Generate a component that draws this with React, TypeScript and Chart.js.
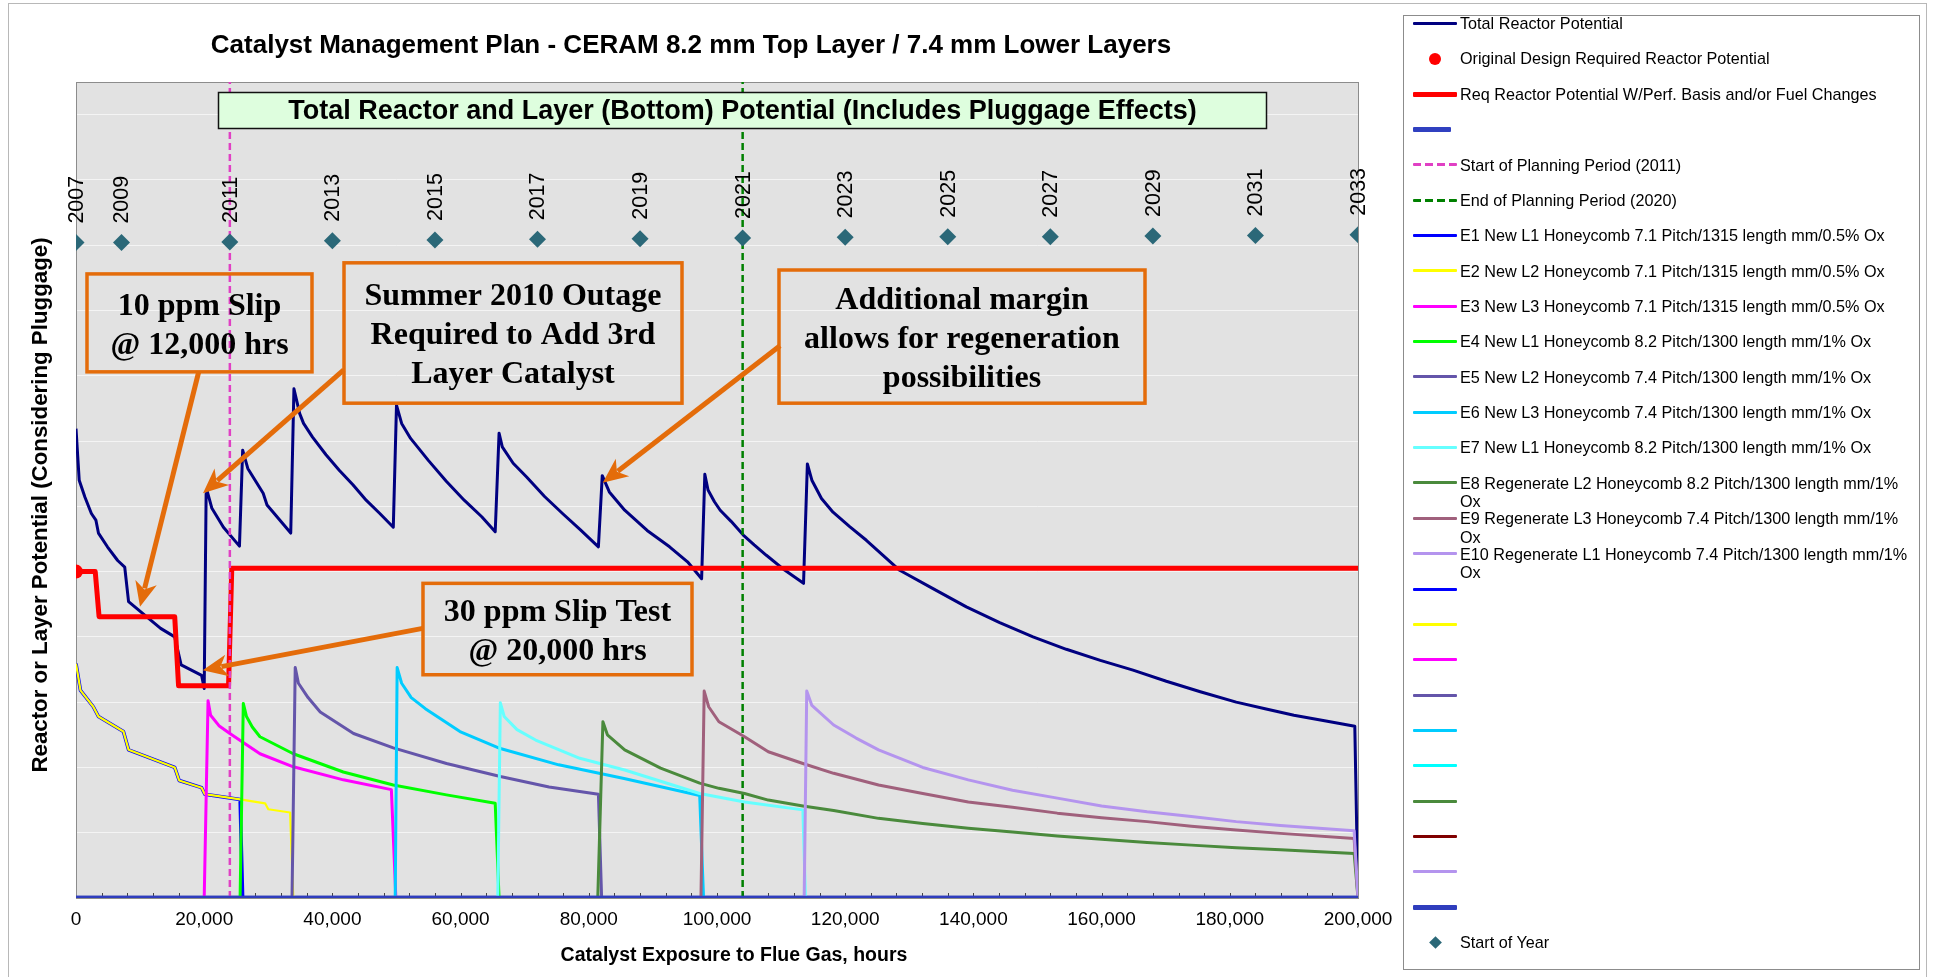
import React, { useEffect, useRef } from 'react';
import { Chart, registerables } from 'chart.js';

Chart.register(...registerables);

const SANS = '"Liberation Sans", Arial, Helvetica, sans-serif';
const SERIF = '"Liberation Serif", "Times New Roman", Times, serif';

// ---------------- data (hours of exposure, reactor/layer potential) ----------------
const TOTAL_HOURS = [0, 500, 1400, 2400, 3100, 3500, 4900, 6500, 7600, 8200, 11000, 13200, 15400, 16400, 19600, 20000, 20300, 20500, 21200, 23000, 25500, 26000, 26800, 29200, 29800, 33500, 34000, 34900, 35500, 36900, 39000, 41100, 43200, 45300, 47400, 49500, 50000, 50800, 52200, 55000, 57800, 60600, 63300, 65400, 66000, 66500, 68200, 70300, 73100, 75900, 78700, 81500, 82100, 83200, 85600, 89100, 92600, 95400, 97600, 98100, 98600, 99600, 100500, 102200, 104100, 105800, 107700, 110600, 113500, 114100, 114800, 116300, 118100, 120700, 123300, 128500, 133700, 138900, 144100, 149300, 154500, 159800, 164900, 170100, 175400, 181000, 185500, 190000, 195000, 199500, 200000];
const TOTAL_POTENTIAL = [7.19, 6.40, 6.14, 5.89, 5.79, 5.59, 5.38, 5.17, 5.07, 4.54, 4.31, 4.13, 4.00, 3.57, 3.41, 3.21, 6.19, 6.22, 5.97, 5.68, 5.39, 6.86, 6.58, 6.20, 6.02, 5.59, 7.80, 7.42, 7.27, 7.06, 6.79, 6.55, 6.33, 6.09, 5.89, 5.68, 7.55, 7.27, 7.04, 6.70, 6.38, 6.09, 5.84, 5.61, 7.12, 6.91, 6.66, 6.45, 6.15, 5.89, 5.64, 5.38, 6.47, 6.22, 5.94, 5.63, 5.38, 5.15, 4.89, 6.49, 6.25, 6.07, 5.94, 5.77, 5.56, 5.41, 5.25, 5.02, 4.82, 6.65, 6.40, 6.12, 5.91, 5.69, 5.48, 5.02, 4.74, 4.46, 4.22, 4.00, 3.81, 3.64, 3.49, 3.32, 3.16, 3.00, 2.90, 2.80, 2.71, 2.63, 0];

const ORIGINAL_HOURS = [0];
const ORIGINAL_POTENTIAL = [5.0];

const REQ_HOURS = [0, 3000, 3600, 15400, 16000, 23800, 24300, 200000];
const REQ_POTENTIAL = [5.0, 5.0, 4.31, 4.31, 3.25, 3.25, 5.05, 5.05];

const BASE_HOURS = [0, 200000];
const BASE_POTENTIAL = [0, 0];

const START_PLAN_HOURS = [24000, 24000];
const END_PLAN_HOURS = [104000, 104000];
const PLAN_LINE_POTENTIAL = [0, 12.5];

const E1_HOURS = [0, 700, 2700, 3500, 7400, 8200, 15400, 16100, 19600, 20100, 25600, 26000];
const E1_POTENTIAL = [3.59, 3.18, 2.93, 2.78, 2.55, 2.27, 2.0, 1.80, 1.69, 1.59, 1.51, 0];
const E2_HOURS = [0, 700, 2700, 3500, 7400, 8200, 15400, 16100, 19600, 20100, 25600, 29500, 30000, 33400, 33900];
const E2_POTENTIAL = [3.59, 3.18, 2.93, 2.78, 2.55, 2.27, 2.0, 1.80, 1.69, 1.59, 1.51, 1.45, 1.36, 1.31, 0];
const E3_HOURS = [20000, 20600, 21000, 22300, 24000, 28700, 33900, 41700, 49200, 49900];
const E3_POTENTIAL = [0, 3.02, 2.80, 2.64, 2.52, 2.21, 2.01, 1.81, 1.66, 0];
const E4_HOURS = [25600, 26100, 26600, 27500, 28700, 33900, 41700, 49500, 57800, 65400, 66000];
const E4_POTENTIAL = [0, 2.98, 2.78, 2.62, 2.47, 2.21, 1.93, 1.73, 1.58, 1.45, 0];
const E5_HOURS = [33700, 34200, 34700, 36200, 38100, 43300, 49500, 57800, 66200, 73800, 81500, 82000];
const E5_POTENTIAL = [0, 3.53, 3.29, 3.07, 2.85, 2.52, 2.30, 2.06, 1.86, 1.70, 1.59, 0];
const E6_HOURS = [49800, 50100, 50800, 52300, 54500, 59900, 66200, 75300, 85500, 97300, 97900];
const E6_POTENTIAL = [0, 3.53, 3.29, 3.07, 2.90, 2.55, 2.29, 2.04, 1.83, 1.57, 0];
const E7_HOURS = [65800, 66200, 66800, 68800, 71700, 78600, 85600, 97300, 104300, 113400, 113800];
const E7_POTENTIAL = [0, 2.99, 2.78, 2.58, 2.42, 2.14, 1.96, 1.60, 1.47, 1.35, 0];
const E8_HOURS = [81400, 82200, 82900, 85600, 91200, 97300, 100300, 104300, 108000, 113400, 118200, 125200, 132100, 139200, 146100, 153100, 160000, 167100, 174000, 181000, 187900, 199400, 200000];
const E8_POTENTIAL = [0, 2.70, 2.50, 2.27, 1.99, 1.76, 1.68, 1.60, 1.50, 1.41, 1.34, 1.22, 1.14, 1.07, 1.01, 0.95, 0.90, 0.85, 0.81, 0.77, 0.74, 0.68, 0];
const E9_HOURS = [97500, 98000, 98700, 100300, 104300, 108000, 113400, 118200, 125200, 132100, 139200, 146100, 153100, 160000, 167100, 174000, 181000, 187900, 199400, 200000];
const E9_POTENTIAL = [0, 3.17, 2.93, 2.70, 2.47, 2.24, 2.06, 1.91, 1.73, 1.60, 1.47, 1.39, 1.30, 1.23, 1.17, 1.10, 1.04, 0.99, 0.91, 0];
const E10_HOURS = [113600, 114000, 114800, 118200, 121700, 125200, 132100, 139200, 146100, 153100, 160000, 167100, 174000, 181000, 187900, 199400, 200000];
const E10_POTENTIAL = [0, 3.17, 2.95, 2.65, 2.45, 2.27, 2.00, 1.81, 1.65, 1.53, 1.41, 1.32, 1.25, 1.17, 1.11, 1.03, 0];

const EMPTY_HOURS: number[] = [];
const EMPTY_POTENTIAL: number[] = [];

const YEAR_LABELS = ['2007', '2009', '2011', '2013', '2015', '2017', '2019', '2021', '2023', '2025', '2027', '2029', '2031', '2033'];
const YEAR_HOURS = [0, 7100, 24000, 40000, 56000, 72000, 88000, 104000, 120000, 136000, 152000, 168000, 184000, 200000];
const YEAR_MARK = [10.04, 10.04, 10.05, 10.07, 10.08, 10.09, 10.10, 10.11, 10.12, 10.13, 10.13, 10.14, 10.15, 10.16];

const X_TICK_STEP = 20000;
const X_MINOR_STEP = 4000;

const CHART_TITLE = 'Catalyst Management Plan - CERAM 8.2 mm Top Layer / 7.4 mm Lower Layers';
const SUBTITLE = 'Total Reactor and Layer (Bottom) Potential (Includes Pluggage Effects)';
const X_TITLE = 'Catalyst Exposure to Flue Gas, hours';
const Y_TITLE = 'Reactor or Layer Potential (Considering Pluggage)';

// ---------------- series definitions (legend order) ----------------
type Kind = 'line' | 'dash' | 'dot' | 'diamond';
interface SeriesDef { label: string; hours: number[]; values: number[]; color: string; width: number; kind: Kind; sample?: number }

const SERIES: SeriesDef[] = [
  { label: 'Total Reactor Potential', hours: TOTAL_HOURS, values: TOTAL_POTENTIAL, color: '#000080', width: 3, kind: 'line' },
  { label: 'Original Design Required Reactor Potential', hours: ORIGINAL_HOURS, values: ORIGINAL_POTENTIAL, color: '#FF0000', width: 7, kind: 'dot' },
  { label: 'Req Reactor Potential W/Perf. Basis and/or Fuel Changes', hours: REQ_HOURS, values: REQ_POTENTIAL, color: '#FF0000', width: 5, kind: 'line' },
  { label: '', hours: BASE_HOURS, values: BASE_POTENTIAL, color: '#3040C0', width: 4.5, kind: 'line', sample: 38 },
  { label: 'Start of Planning Period (2011)', hours: START_PLAN_HOURS, values: PLAN_LINE_POTENTIAL, color: '#E040C4', width: 2.5, kind: 'dash' },
  { label: 'End of Planning Period (2020)', hours: END_PLAN_HOURS, values: PLAN_LINE_POTENTIAL, color: '#008000', width: 2.5, kind: 'dash' },
  { label: 'E1 New L1 Honeycomb 7.1 Pitch/1315 length mm/0.5% Ox', hours: E1_HOURS, values: E1_POTENTIAL, color: '#0000FF', width: 3.5, kind: 'line' },
  { label: 'E2 New L2 Honeycomb 7.1 Pitch/1315 length mm/0.5% Ox', hours: E2_HOURS, values: E2_POTENTIAL, color: '#FFFF00', width: 2.2, kind: 'line' },
  { label: 'E3 New L3 Honeycomb 7.1 Pitch/1315 length mm/0.5% Ox', hours: E3_HOURS, values: E3_POTENTIAL, color: '#FF00FF', width: 3, kind: 'line' },
  { label: 'E4 New L1 Honeycomb 8.2 Pitch/1300 length mm/1% Ox', hours: E4_HOURS, values: E4_POTENTIAL, color: '#00FF00', width: 3, kind: 'line' },
  { label: 'E5 New L2 Honeycomb 7.4 Pitch/1300 length mm/1% Ox', hours: E5_HOURS, values: E5_POTENTIAL, color: '#6455AA', width: 3, kind: 'line' },
  { label: 'E6 New L3 Honeycomb 7.4 Pitch/1300 length mm/1% Ox', hours: E6_HOURS, values: E6_POTENTIAL, color: '#00CCFF', width: 3, kind: 'line' },
  { label: 'E7 New L1 Honeycomb 8.2 Pitch/1300 length mm/1% Ox', hours: E7_HOURS, values: E7_POTENTIAL, color: '#66FFFF', width: 3, kind: 'line' },
  { label: 'E8 Regenerate L2 Honeycomb 8.2 Pitch/1300 length mm/1% Ox', hours: E8_HOURS, values: E8_POTENTIAL, color: '#4A8A3C', width: 3, kind: 'line' },
  { label: 'E9 Regenerate L3 Honeycomb 7.4 Pitch/1300 length mm/1% Ox', hours: E9_HOURS, values: E9_POTENTIAL, color: '#A0607C', width: 3, kind: 'line' },
  { label: 'E10 Regenerate L1 Honeycomb 7.4 Pitch/1300 length mm/1% Ox', hours: E10_HOURS, values: E10_POTENTIAL, color: '#B494EE', width: 3, kind: 'line' },
  { label: '', hours: EMPTY_HOURS, values: EMPTY_POTENTIAL, color: '#0000FF', width: 3, kind: 'line' },
  { label: '', hours: EMPTY_HOURS, values: EMPTY_POTENTIAL, color: '#FFFF00', width: 3, kind: 'line' },
  { label: '', hours: EMPTY_HOURS, values: EMPTY_POTENTIAL, color: '#FF00FF', width: 3, kind: 'line' },
  { label: '', hours: EMPTY_HOURS, values: EMPTY_POTENTIAL, color: '#6455AA', width: 3, kind: 'line' },
  { label: '', hours: EMPTY_HOURS, values: EMPTY_POTENTIAL, color: '#00CCFF', width: 3, kind: 'line' },
  { label: '', hours: EMPTY_HOURS, values: EMPTY_POTENTIAL, color: '#00FFFF', width: 3, kind: 'line' },
  { label: '', hours: EMPTY_HOURS, values: EMPTY_POTENTIAL, color: '#4A8A3C', width: 3, kind: 'line' },
  { label: '', hours: EMPTY_HOURS, values: EMPTY_POTENTIAL, color: '#800000', width: 3, kind: 'line' },
  { label: '', hours: EMPTY_HOURS, values: EMPTY_POTENTIAL, color: '#B494EE', width: 3, kind: 'line' },
  { label: '', hours: BASE_HOURS, values: BASE_POTENTIAL, color: '#2F3DBD', width: 4.5, kind: 'line' },
  { label: 'Start of Year', hours: YEAR_HOURS, values: YEAR_MARK, color: '#2B6878', width: 8.5, kind: 'diamond' },
];

// ---------------- annotations (anchored in data coordinates) ----------------
const ORANGE = '#E46C0A';
const NOTE_BOXES = [
  { x0: 1716, x1: 36817, y0: 9.56, y1: 8.06, lines: ['10 ppm Slip', '@ 12,000 hrs'] },
  { x0: 41810, x1: 94540, y0: 9.73, y1: 7.58, lines: ['Summer 2010 Outage', 'Required to Add 3rd', 'Layer Catalyst'] },
  { x0: 109672, x1: 166771, y0: 9.62, y1: 7.58, lines: ['Additional margin', 'allows for regeneration', 'possibilities'] },
  { x0: 54134, x1: 96100, y0: 4.82, y1: 3.42, lines: ['30 ppm Slip Test', '@ 20,000 hrs'] },
];
const NOTE_ARROWS = [
  { fx: 19142, fy: 8.06, tx: 9984, ty: 4.46 },
  { fx: 41770, fy: 8.09, tx: 19813, ty: 6.20 },
  { fx: 109830, fy: 8.46, tx: 82168, ty: 6.36 },
  { fx: 54087, fy: 4.13, tx: 19766, ty: 3.49 },
];
const SUBTITLE_BOX = { x0: 22153, x1: 185647, y0: 12.34, y1: 11.79 };

function drawArrow(ctx: CanvasRenderingContext2D, x0: number, y0: number, x1: number, y1: number) {
  const a = Math.atan2(y1 - y0, x1 - x0);
  const cos = Math.cos(a), sin = Math.sin(a);
  const len = 25, half = 11;
  const bx = x1 - len * cos, by = y1 - len * sin;
  ctx.save();
  ctx.strokeStyle = ORANGE;
  ctx.fillStyle = ORANGE;
  ctx.lineWidth = 5;
  ctx.lineCap = 'butt';
  ctx.beginPath();
  ctx.moveTo(x0, y0);
  ctx.lineTo(x1 - (len - 6) * cos, y1 - (len - 6) * sin);
  ctx.stroke();
  ctx.beginPath();
  ctx.moveTo(x1, y1);
  ctx.lineTo(bx + half * sin, by - half * cos);
  ctx.lineTo(x1 - (len - 7) * cos, y1 - (len - 7) * sin);
  ctx.lineTo(bx - half * sin, by + half * cos);
  ctx.closePath();
  ctx.fill();
  ctx.restore();
}

const plotDecor = {
  id: 'plotDecor',
  beforeDraw(chart: any) {
    const { ctx, chartArea: a } = chart;
    ctx.save();
    ctx.fillStyle = '#E2E2E2';
    ctx.fillRect(a.left, a.top, a.right - a.left, a.bottom - a.top);
    ctx.restore();
  },
  beforeDatasetsDraw(chart: any) {
    const { ctx, chartArea: a, scales } = chart;
    ctx.save();
    ctx.strokeStyle = '#444';
    ctx.lineWidth = 1;
    for (let v = 0; v <= 200000; v += X_MINOR_STEP) {
      const px = Math.round(scales.x.getPixelForValue(v)) + 0.5;
      ctx.beginPath();
      ctx.moveTo(px, a.bottom);
      ctx.lineTo(px, a.bottom - 5);
      ctx.stroke();
    }
    ctx.strokeStyle = '#8C8C8C';
    ctx.strokeRect(Math.round(a.left) + 0.5, Math.round(a.top) + 0.5, Math.round(a.right - a.left), Math.round(a.bottom - a.top));
    ctx.restore();
  },
  afterDatasetsDraw(chart: any) {
    const { ctx } = chart;
    const idx = SERIES.length - 1;
    const meta = chart.getDatasetMeta(idx);
    ctx.save();
    ctx.fillStyle = '#000';
    ctx.font = `21.5px ${SANS}`;
    ctx.textAlign = 'left';
    ctx.textBaseline = 'middle';
    meta.data.forEach((el: any, i: number) => {
      ctx.save();
      ctx.translate(el.x + 1, el.y - 19);
      ctx.rotate(-Math.PI / 2);
      ctx.fillText(YEAR_LABELS[i], 0, 0);
      ctx.restore();
    });
    ctx.restore();
  },
  afterDraw(chart: any) {
    const { ctx, scales } = chart;
    const px = (v: number) => scales.x.getPixelForValue(v);
    const py = (v: number) => scales.y.getPixelForValue(v);
    ctx.save();
    const sx0 = Math.round(px(SUBTITLE_BOX.x0)) + 0.5, sx1 = Math.round(px(SUBTITLE_BOX.x1)) + 0.5;
    const sy0 = Math.round(py(SUBTITLE_BOX.y0)) + 0.5, sy1 = Math.round(py(SUBTITLE_BOX.y1)) + 0.5;
    ctx.fillStyle = '#DEFEDE';
    ctx.fillRect(sx0, sy0, sx1 - sx0, sy1 - sy0);
    ctx.strokeStyle = '#111';
    ctx.lineWidth = 1.5;
    ctx.strokeRect(sx0, sy0, sx1 - sx0, sy1 - sy0);
    ctx.fillStyle = '#000';
    ctx.font = `bold 27px ${SANS}`;
    ctx.textAlign = 'center';
    ctx.textBaseline = 'middle';
    ctx.fillText(SUBTITLE, (sx0 + sx1) / 2, (sy0 + sy1) / 2 + 1);

    NOTE_BOXES.forEach((b) => {
      const x0 = px(b.x0), x1 = px(b.x1), y0 = py(b.y0), y1 = py(b.y1);
      ctx.strokeStyle = ORANGE;
      ctx.lineWidth = 3.5;
      ctx.strokeRect(x0, y0, x1 - x0, y1 - y0);
      ctx.fillStyle = '#000';
      ctx.font = `bold 32px ${SERIF}`;
      ctx.textAlign = 'center';
      ctx.textBaseline = 'middle';
      const lh = 39;
      const cy = (y0 + y1) / 2;
      const n = b.lines.length;
      b.lines.forEach((t, i) => {
        ctx.fillText(t, (x0 + x1) / 2, cy + (i - (n - 1) / 2) * lh + 3);
      });
    });
    NOTE_ARROWS.forEach((r) => drawArrow(ctx, px(r.fx), py(r.fy), px(r.tx), py(r.ty)));

    ctx.fillStyle = '#000';
    ctx.font = `bold 19.5px ${SANS}`;
    ctx.textAlign = 'center';
    ctx.textBaseline = 'middle';
    const a = chart.chartArea;
    ctx.fillText(X_TITLE, (a.left + a.right) / 2 + 17, a.bottom + 58);
    ctx.save();
    ctx.translate(a.left - 35, (a.top + a.bottom) / 2 + 15);
    ctx.rotate(-Math.PI / 2);
    ctx.font = `bold 22.3px ${SANS}`;
    ctx.fillText(Y_TITLE, 0, 0);
    ctx.restore();
    ctx.restore();
  },
};

function buildDatasets() {
  return SERIES.map((s, i) => {
    const data = s.hours.map((h, k) => ({ x: h, y: s.values[k] }));
    const base: any = { label: s.label, data, order: -i, borderColor: s.color, backgroundColor: s.color };
    if (s.kind === 'dot' || s.kind === 'diamond') {
      return { ...base, showLine: false, pointRadius: s.width, pointHoverRadius: s.width, pointStyle: s.kind === 'dot' ? 'circle' : 'rectRot', borderWidth: 0 };
    }
    return {
      ...base,
      showLine: true,
      pointRadius: 0,
      borderWidth: s.width,
      borderJoinStyle: 'round',
      borderCapStyle: 'butt',
      borderDash: s.kind === 'dash' ? [7, 4] : [],
      tension: 0,
    };
  });
}

function LegendSample({ s }: { s: SeriesDef }) {
  if (s.kind === 'dot') {
    return <div style={{ position: 'absolute', left: 25, top: -6, width: 12, height: 12, borderRadius: '50%', background: s.color }} />;
  }
  if (s.kind === 'diamond') {
    return <div style={{ position: 'absolute', left: 26.5, top: -4.5, width: 9, height: 9, background: s.color, transform: 'rotate(45deg)' }} />;
  }
  const h = s.kind === 'dash' ? 3 : Math.min(Math.max(s.width, 3), 5);
  const bg = s.kind === 'dash' ? `repeating-linear-gradient(90deg, ${s.color} 0 8px, transparent 8px 12px)` : s.color;
  return <div style={{ position: 'absolute', left: 8.5, top: -h / 2, width: s.sample ?? 44, height: h, background: bg, borderRadius: 1 }} />;
}

function Legend() {
  return (
    <div style={{ position: 'absolute', left: 1403, top: 15, width: 517, height: 955, border: '1px solid #8C8C8C', boxSizing: 'border-box', background: '#fff' }}>
      {SERIES.map((s, i) => (
        <div key={i} style={{ position: 'absolute', left: 0, top: 23.3 + 35.36 * i - 16, width: 510, height: 0 }}>
          <LegendSample s={s} />
          {s.label ? (
            <div style={{ position: 'absolute', left: 56, top: -9.2, width: 455, font: `16.2px ${SANS}`, lineHeight: '18.4px', color: '#000', whiteSpace: 'normal' }}>{s.label}</div>
          ) : null}
        </div>
      ))}
    </div>
  );
}

export default function App() {
  const ref = useRef<HTMLCanvasElement>(null);
  useEffect(() => {
    if (!ref.current) return;
    Chart.defaults.font.family = SANS;
    const chart = new Chart(ref.current, {
      type: 'scatter',
      data: { datasets: buildDatasets() },
      plugins: [plotDecor],
      options: {
        animation: false,
        responsive: false,
        events: [],
        layout: { padding: { left: 24, right: 575, top: 0, bottom: 0 } },
        plugins: {
          legend: { display: false },
          tooltip: { enabled: false },
          title: {
            display: true,
            text: CHART_TITLE,
            color: '#000',
            font: { family: SANS, size: 26, weight: 'bold' },
            padding: { top: 30, bottom: 20.8 },
          },
        },
        scales: {
          x: {
            type: 'linear',
            min: 0,
            max: 200000,
            grid: { display: false, drawTicks: false },
            border: { display: false },
            ticks: {
              stepSize: X_TICK_STEP,
              color: '#000',
              padding: 10,
              maxRotation: 0,
              autoSkip: false,
              font: { family: SANS, size: 19 },
              callback: (v: any) => Number(v).toLocaleString('en-US'),
            },
            afterFit: (s: any) => { s.height = 79; },
          },
          y: {
            type: 'linear',
            min: 0,
            max: 12.5,
            grid: { color: '#F4F4F4', lineWidth: 1, drawTicks: false },
            border: { display: false },
            ticks: { display: false, stepSize: 1 },
            afterFit: (s: any) => { s.width = 52; },
          },
        },
      } as any,
    });
    return () => chart.destroy();
  }, []);

  return (
    <div style={{ position: 'fixed', left: 0, top: 0, width: 1933, height: 977, background: '#fff', overflow: 'hidden' }}>
      <div style={{ position: 'absolute', left: 8, top: 3, width: 1919, height: 990, border: '1px solid #B8B8B8', boxSizing: 'border-box' }} />
      <canvas ref={ref} width={1933} height={977} style={{ position: 'absolute', left: 0, top: 0, width: 1933, height: 977 }} />
      <Legend />
    </div>
  );
}
